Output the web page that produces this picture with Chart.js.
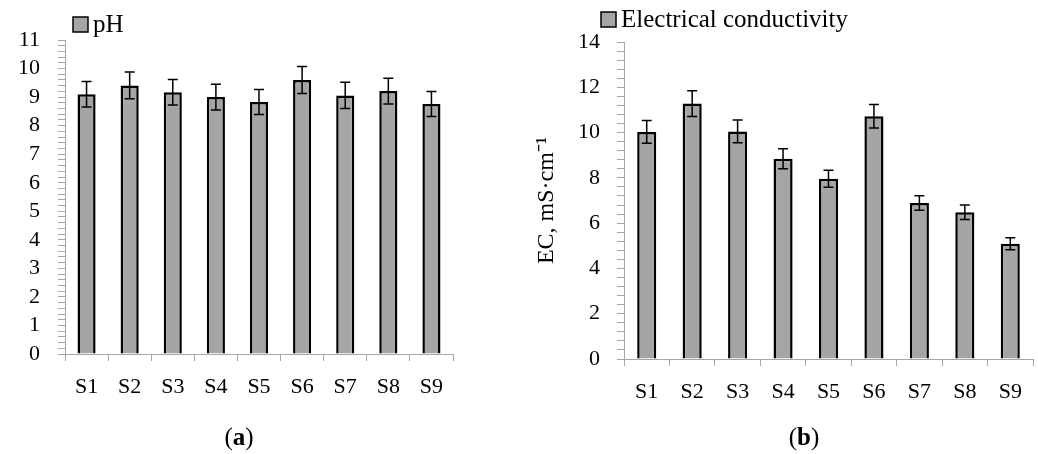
<!DOCTYPE html>
<html>
<head>
<meta charset="utf-8">
<script src="https://cdn.jsdelivr.net/npm/chart.js@4/dist/chart.umd.min.js"></script>
<style>
  body { margin: 0; background: #fff; }
  #wrap { position: relative; width: 1038px; height: 454px; font-family: "Liberation Serif", serif; }
  canvas { position: absolute; top: 0; }
  .cap { position: absolute; top: 423px; font-size: 25px; color: #000; transform: translateX(-50%); }
</style>
</head>
<body>
<div id="wrap">
  <canvas id="phChart" width="520" height="454" style="left:0"></canvas>
  <canvas id="ecChart" width="518" height="454" style="left:520px"></canvas>
  <div class="cap" style="left:239px">(<b>a</b>)</div>
  <div class="cap" style="left:804px">(<b>b</b>)</div>
</div>
<script>
const sites = ['S1', 'S2', 'S3', 'S4', 'S5', 'S6', 'S7', 'S8', 'S9'];
const phValues = [9.10, 9.41, 9.17, 9.00, 8.83, 9.60, 9.06, 9.21, 8.76];
const phErrors = [0.45, 0.47, 0.45, 0.45, 0.44, 0.47, 0.46, 0.45, 0.44];
const ecValues = [10.03, 11.28, 10.05, 8.84, 7.96, 10.72, 6.89, 6.48, 5.09];
const ecErrors = [0.50, 0.57, 0.50, 0.44, 0.38, 0.52, 0.32, 0.32, 0.26];

const axisGray = '#a6a6a6';
const barGray = '#a5a5a5';
const font = { family: '"Liberation Serif", serif', size: 22 };

// error bars drawn from each bar's value +/- its error
const errorBars = {
  id: 'errorBars',
  afterDatasetsDraw(chart, args, opts) {
    const ctx = chart.ctx;
    const y = chart.scales.y;
    chart.data.datasets.forEach((ds, di) => {
      chart.getDatasetMeta(di).data.forEach((bar, i) => {
        const v = ds.data[i], e = opts.errors[i];
        const top = y.getPixelForValue(v + e), bot = y.getPixelForValue(v - e);
        ctx.save();
        ctx.strokeStyle = '#000';
        ctx.lineWidth = 1.5;
        ctx.beginPath();
        ctx.moveTo(bar.x, top); ctx.lineTo(bar.x, bot);
        ctx.moveTo(bar.x - 5, top); ctx.lineTo(bar.x + 5, top);
        ctx.moveTo(bar.x - 5, bot); ctx.lineTo(bar.x + 5, bot);
        ctx.stroke();
        ctx.restore();
      });
    });
  }
};

// small legend in the corner, like the Excel one
const boxLegend = {
  id: 'boxLegend',
  afterDraw(chart, args, opts) {
    const ctx = chart.ctx;
    const ds = chart.data.datasets[0];
    ctx.save();
    ctx.fillStyle = ds.backgroundColor;
    ctx.fillRect(opts.x, opts.y, 15, 15);
    ctx.strokeStyle = '#000';
    ctx.lineWidth = 1.5;
    ctx.strokeRect(opts.x, opts.y, 15, 15);
    ctx.fillStyle = '#000';
    ctx.font = '25px "Liberation Serif", serif';
    ctx.textBaseline = 'middle';
    ctx.fillText(ds.label, opts.x + 20, opts.y + 8);
    ctx.restore();
  }
};

function makeChart(id, label, values, errors, cfg) {
  return new Chart(document.getElementById(id).getContext('2d'), {
    type: 'bar',
    data: {
      labels: sites,
      datasets: [{
        label: label,
        data: values,
        backgroundColor: barGray,
        borderColor: '#000',
        borderWidth: 2.5,
        barPercentage: 0.42,
        categoryPercentage: 1
      }]
    },
    plugins: [errorBars, boxLegend],
    options: {
      responsive: false,
      animation: false,
      layout: { padding: cfg.padding },
      plugins: {
        legend: { display: false },
        tooltip: { enabled: false },
        errorBars: { errors: errors },
        boxLegend: cfg.legend
      },
      scales: {
        x: {
          offset: true,
          grid: { offset: true, drawOnChartArea: false, tickLength: 7, color: axisGray },
          border: { color: axisGray },
          ticks: { font: font, color: '#000', padding: 13, maxRotation: 0 },
          afterFit: s => { s.height = cfg.xHeight; }
        },
        y: {
          min: 0,
          max: cfg.max,
          grid: { drawOnChartArea: false, tickLength: 7, color: axisGray },
          border: { color: axisGray },
          ticks: {
            stepSize: cfg.minor,
            autoSkip: false,
            maxTicksLimit: 100,
            font: font,
            color: '#000',
            padding: cfg.tickPad,
            callback: v => {
              const r = Math.round(v * 1000) / 1000;
              return Math.abs(r / cfg.major - Math.round(r / cfg.major)) < 1e-6 ? r : '';
            }
          },
          title: cfg.title,
          afterFit: s => { s.width = cfg.yWidth; }
        }
      }
    }
  });
}

makeChart('phChart', 'pH', phValues, phErrors, {
  padding: { left: 0, top: 40, right: 67, bottom: 0 },
  max: 11, minor: 0.2, major: 1, tickPad: 18,
  yWidth: 65, xHeight: 100,
  legend: { x: 73, y: 17 },
  title: { display: false }
});

makeChart('ecChart', 'Electrical conductivity', ecValues, ecErrors, {
  padding: { left: 0, top: 42, right: 5, bottom: 0 },
  max: 14, minor: 0.4, major: 2, tickPad: 17,
  yWidth: 104, xHeight: 95,
  legend: { x: 81, y: 12 },
  title: { display: true, text: 'EC, mS·cm⁻¹', color: '#000', font: { family: '"Liberation Serif", serif', size: 24 }, padding: { top: 12, bottom: 0 } }
});
</script>
</body>
</html>
